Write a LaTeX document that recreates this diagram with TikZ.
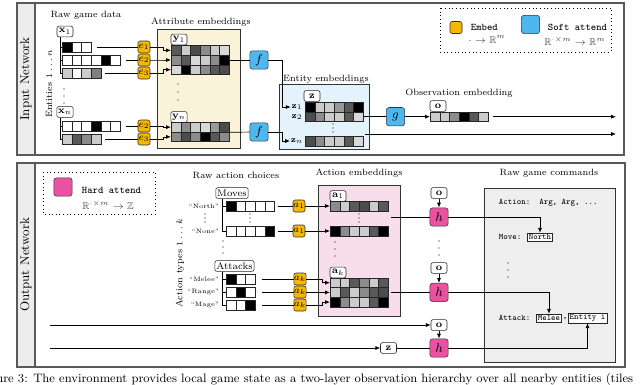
\documentclass[tikz,border=0pt]{standalone}
\usepackage{amssymb}
\usepackage{xcolor}
\usepackage{tikz}
\usetikzlibrary{arrows.meta,positioning}

\definecolor{embedorange}{RGB}{245,184,0}
\definecolor{softblue}{RGB}{77,184,240}
\definecolor{hardpink}{RGB}{232,82,160}
\definecolor{attrfill}{RGB}{251,242,218}
\definecolor{entfill}{RGB}{228,242,252}
\definecolor{actfill}{RGB}{247,222,234}
\definecolor{cmdfill}{RGB}{238,238,238}

% one row of gray cells, named <name>-1, <name>-2, ...
\newcommand{\cellrow}[4]{%
  \foreach \g [count=\i] in {#4}
    \node[cell, fill=black!\g] (#1-\i) at ({#2+(\i-1)*9.7},#3) {};%
}
% three small dots going down
\newcommand{\dotcol}[3]{%
  \foreach \d in {0,1,2}
    \fill ({#1},{#2+\d*#3}) circle (0.45pt);%
}

\begin{document}
\begin{tikzpicture}[
    x=0.025cm, y=-0.025cm,
    font=\fontsize{6.5}{7.5}\selectfont,
    panel/.style={draw=black!65, line width=0.9pt},
    sidebar/.style={draw=black!65, line width=0.9pt, fill=black!7},
    legend/.style={draw, dotted, line width=0.6pt},
    group/.style={draw=black!80, line width=0.6pt},
    cell/.style={draw=black!85, line width=0.35pt, minimum size=2.425mm, inner sep=0pt},
    tag/.style={draw=black!85, fill=white, rounded corners=1.5pt, inner sep=1pt, minimum height=2.7mm, minimum width=4mm, font=\fontsize{7.5}{8}\selectfont},
    embed/.style={draw=black!80, fill=embedorange, rounded corners=1.5pt, minimum size=3mm, inner sep=0pt, font=\fontsize{7}{8}\selectfont},
    soft/.style={draw=black!80, fill=softblue, rounded corners=2pt, minimum size=4.6mm, inner sep=0pt, font=\fontsize{9}{10}\selectfont},
    hard/.style={draw=black!80, fill=hardpink, rounded corners=2pt, minimum size=4.6mm, inner sep=0pt, font=\fontsize{9}{10}\selectfont},
    cmd/.style={draw=black!85, fill=white, inner sep=1pt, font=\fontsize{6}{7}\selectfont\ttfamily},
    code/.style={anchor=west, font=\fontsize{6}{7}\selectfont\ttfamily},
    key/.style={anchor=west, font=\fontsize{7.2}{8}\selectfont\ttfamily},
    keymath/.style={text=black!75, font=\fontsize{7}{8}\selectfont},
    choice/.style={font=\fontsize{4.5}{5}\selectfont, anchor=east, inner sep=0.5pt},
    side/.style={rotate=90, font=\fontsize{9}{10}\selectfont},
    ln/.style={line width=0.5pt},
    arr/.style={line width=0.5pt, -{Latex[length=1.2mm, width=1mm]}},
  ]
  \useasboundingbox (0,0) rectangle (640,384);
  \fill[white] (0,0) rectangle (640,384);

  % panels
  \draw[panel] (17,3) rectangle (624,155);
  \draw[sidebar] (17,3) rectangle (35,155);
  \node[side] (inlbl) at (26,79) {Input Network};
  \draw[panel] (17,163) rectangle (625,367);
  \draw[sidebar] (17,163) rectangle (35,367);
  \node[side] (outlbl) at (26,265) {Output Network};

  % group boxes
  \draw[group, fill=attrfill] (157,29) rectangle (240,148);
  \draw[group, fill=entfill] (279,84) rectangle (369,149);
  \draw[group, fill=actfill] (318,185) rectangle (400,316);
  \draw[group, fill=cmdfill] (484,188) rectangle (615,362);

  % legends
  \draw[legend] (440,8) rectangle (611,52);
  \node[embed] (kembed) at (456,27.5) {};
  \node[key] (tembed) at (466,27.5) {Embed};
  \node[keymath] (membed) at (487,39.5) {$\cdot\to\mathbb{R}^m$};
  \node[soft] (ksoft) at (530.5,24.5) {};
  \node[key] (tsoft) at (543,27.5) {Soft attend};
  \node[keymath] (msoft) at (575,41) {$\mathbb{R}^{\cdot\times m}\to\mathbb{R}^m$};
  \draw[legend] (43,172) rectangle (155,214);
  \node[hard] (khard) at (63,187) {};
  \node[key] (thard) at (77,190.5) {Hard attend};
  \node[keymath] (mhard) at (108,205) {$\mathbb{R}^{\cdot\times m}\to\mathbb{Z}$};

  % raw game data
  \node (traw) at (86,15) {Raw game data};
  \node[rotate=90] (ents) at (49,84) {Entities $1\ldots n$};
  \node[tag] (x1) at (65,31.5) {$\mathbf{x}_1$};
  \cellrow{xa}{67}{47}{100,0,0}
  \cellrow{xb}{67}{60}{0,0,0,0,100,0}
  \cellrow{xc}{67}{73}{20,0,20,50}
  \draw[ln] ([xshift=-1.25mm]x1.south) |- (xa-1.west);
  \draw[ln] ([xshift=-1.25mm]x1.south) |- (xb-1.west);
  \draw[ln] ([xshift=-1.25mm]x1.south) |- (xc-1.west);
  \dotcol{64}{89}{7}
  \node[tag] (xn) at (65,112) {$\mathbf{x}_n$};
  \cellrow{xd}{67}{126}{0,0,0,100,0,0}
  \cellrow{xe}{67}{139}{20,65,45,20}
  \draw[ln] ([xshift=-1.25mm]xn.south) |- (xd-1.west);
  \draw[ln] ([xshift=-1.25mm]xn.south) |- (xe-1.west);

  \node[embed] (e1) at (144,47) {$e_1$};
  \node[embed] (e2) at (144,60) {$e_2$};
  \node[embed] (e3) at (144,73) {$e_3$};
  \node[embed] (e4) at (144,126) {$e_2$};
  \node[embed] (e5) at (144,139) {$e_3$};
  \draw[ln, shorten <=1.3mm] (xa-3.east) -- (e1);
  \draw[ln, shorten <=1.3mm] (xb-6.east) -- (e2);
  \draw[ln, shorten <=1mm] (xc-4.east) -- (e3);
  \draw[ln, shorten <=1.3mm] (xd-6.east) -- (e4);
  \draw[ln, shorten <=1mm] (xe-4.east) -- (e5);

  % attribute embeddings
  \node (tattr) at (201,22) {Attribute embeddings};
  \node[tag] (y1) at (179,39.5) {$\mathbf{y}_1$};
  \cellrow{Ya}{176}{50.3}{65,20,70,45,20,15}
  \cellrow{Yb}{176}{60}{45,65,15,20,45,100}
  \cellrow{Yc}{176}{69.7}{15,100,20,45,65,70}
  \dotcol{178}{84}{8}
  \node[tag] (yn) at (179,117) {$\mathbf{y}_n$};
  \cellrow{Yd}{176}{127.15}{20,45,20,15,40,70}
  \cellrow{Ye}{176}{136.85}{45,70,45,100,65,45}
  \draw[arr] (e1.east) -- ++(13,0) |- (Ya-1);
  \draw[arr] (e2.east) -- ++(13,0) |- (Yb-1);
  \draw[arr] (e3.east) -- ++(13,0) |- (Yc-1);
  \draw[arr] (e4.east) -- ++(13,0) |- (Yd-1);
  \draw[arr] (e5.east) -- ++(13,0) |- (Ye-1);

  \node[soft] (f1) at (259,60) {$f$};
  \node[soft] (f2) at (259,132) {$f$};
  \draw[ln] (Yb-6.east) -- (f1);
  \draw[ln] (Yd-6.south east) -- (f2);

  % entity embeddings
  \node (tent) at (326,79) {Entity embeddings};
  \node[tag] (z) at (312,96) {$\mathbf{z}$};
  \cellrow{Za}{310}{107}{100,20,20,40,65,100}
  \cellrow{Zb}{310}{116.7}{70,45,20,20,65,15}
  \cellrow{Zc}{310}{141}{70,45,20,20,65,15}
  \node[inner sep=0.5pt] (z1) at (297,107) {$\mathbf{z}_1$};
  \node[inner sep=0.5pt] (z2) at (297,117) {$\mathbf{z}_2$};
  \node[inner sep=0.5pt] (zn) at (297,141) {$\mathbf{z}_n$};
  \dotcol{333}{124}{4}
  \draw[arr] (f1.east) -- ++(14,0) |- (z1);
  \draw[arr] (f2.east) -- ++(14,0) |- (zn);

  % observation embedding
  \node[soft] (g) at (395.5,116.7) {$g$};
  \draw[ln] (Zb-6.east) -- (g);
  \node (tobs) at (459,93) {Observation embedding};
  \node[tag] (o) at (438,106) {$\mathbf{o}$};
  \cellrow{Oa}{435}{116.7}{20,20,45,100,65,20}
  \draw[arr] (g) -- (Oa-1);
  \coordinate (oend) at (616,116.7);
  \draw[arr, shorten <=1mm] (Oa-6.east) -- (oend);
  \coordinate (zout) at (365,134);
  \coordinate (zend) at (616,134);
  \draw[arr] (zout) -- (zend);

  % raw action choices
  \node (tchoice) at (236,175) {Raw action choices};
  \node[rotate=90] (types) at (180,263) {Action types $1\ldots k$};
  \node[tag, font=\fontsize{6.8}{7}\selectfont] (moves) at (232,193) {Moves};
  \cellrow{Mn}{231}{206}{100,0,0,0,0}
  \cellrow{Mo}{231}{231}{0,0,0,0,100}
  \draw[ln] ([xshift=-2.5mm]moves.south) |- (Mn-1.west);
  \draw[ln] ([xshift=-2.5mm]moves.south) |- (Mo-1.west);
  \node[choice] (cn) at (220,206) {``North''};
  \node[choice] (co) at (220,231) {``None''};
  \dotcol{205}{214}{4}
  \dotcol{250}{214}{4}
  \dotcol{223}{241}{6}
  \node[tag, font=\fontsize{6.8}{7}\selectfont] (attacks) at (234.5,266) {Attacks};
  \cellrow{Ml}{231}{279}{100,0,0}
  \cellrow{Mr}{231}{292}{0,100,0}
  \cellrow{Mg}{231}{305}{0,0,100}
  \draw[ln] ([xshift=-3.1mm]attacks.south) |- (Ml-1.west);
  \draw[ln] ([xshift=-3.1mm]attacks.south) |- (Mr-1.west);
  \draw[ln] ([xshift=-3.1mm]attacks.south) |- (Mg-1.west);
  \node[choice] (cl) at (220,279) {``Melee''};
  \node[choice] (cr) at (220,292) {``Range''};
  \node[choice] (cg) at (220,305) {``Mage''};

  \node[embed] (a1) at (299,206) {$a_1$};
  \node[embed] (a2) at (299,231) {$a_1$};
  \node[embed] (a3) at (300,279) {$a_k$};
  \node[embed] (a4) at (300,292) {$a_k$};
  \node[embed] (a5) at (300,305) {$a_k$};
  \draw[ln, shorten <=0.8mm] (Mn-5.east) -- (a1);
  \draw[ln, shorten <=0.8mm] (Mo-5.east) -- (a2);
  \draw[ln, shorten <=1.5mm] (Ml-3.east) -- (a3);
  \draw[ln, shorten <=1.5mm] (Mr-3.east) -- (a4);
  \draw[ln, shorten <=1.5mm] (Mg-3.east) -- (a5);

  % action embeddings
  \node (tact) at (359,173) {Action embeddings};
  \node[tag] (at1) at (338,196) {$\mathbf{a}_1$};
  \cellrow{Aa}{335}{206}{45,20,65,70,20,65}
  \dotcol{359}{214}{4}
  \cellrow{Ab}{335}{231}{100,45,20,20,65,100}
  \dotcol{335}{242}{7}
  \node[tag] (atk) at (338,272.5) {$\mathbf{a}_k$};
  \cellrow{Ak1}{335}{282.7}{20,20,65,45,20,65}
  \cellrow{Ak2}{335}{292.4}{20,65,20,45,65,70}
  \cellrow{Ak3}{335}{302.1}{100,45,20,20,65,100}
  \draw[arr] (a1) -- (Aa-1);
  \draw[arr] (a2) -- (Ab-1);
  \draw[arr] (a3.east) -- ++(16,0) |- (Ak1-1);
  \draw[arr] (a4.east) -- ++(16,0) |- (Ak2-1);
  \draw[arr] (a5.east) -- ++(16,0) |- (Ak3-1);

  % hard attention
  \node[tag] (o1) at (439,193) {$\mathbf{o}$};
  \node[hard] (h1) at (439,217) {$h$};
  \draw[arr] (o1) -- (h1);
  \coordinate (aout) at (391,217);
  \draw[ln] (aout) -- (h1);
  \dotcol{439}{241}{7}
  \node[tag] (o2) at (439,268) {$\mathbf{o}$};
  \node[hard] (h2) at (439,292.4) {$h$};
  \draw[arr] (o2) -- (h2);
  \draw[ln, shorten <=0.5mm] (Ak2-6.east) -- (h2);
  \node[tag] (o3) at (439,325) {$\mathbf{o}$};
  \node[hard] (h3) at (439,348) {$h$};
  \draw[arr] (o3) -- (h3);
  \node[tag] (zz) at (388.5,348) {$\mathbf{z}$};
  \draw[ln] (zz) -- (h3);
  \coordinate (oin) at (50,325);
  \coordinate (zin) at (50,348);
  \draw[arr] (oin) -- (o3);
  \draw[arr] (zin) -- (zz);

  % raw game commands
  \node (tcmd) at (549,173) {Raw game commands};
  \node[code] (cact) at (494,203) {Action:\ \ Arg, Arg, ...};
  \node[code] (cmove) at (494,237) {Move:};
  \node[cmd] (cnorth) at (540,237) {North};
  \dotcol{508}{263}{7}
  \node[code] (catt) at (494,318) {Attack:};
  \node[cmd] (cmelee) at (549,318) {Melee};
  \node[code, inner sep=0pt] (comma) at (562.5,319) {,};
  \node[cmd] (cent) at (587.5,318) {Entity i};
  \draw[arr] (h1) -| (cnorth);
  \draw[arr] (h2) -| (cmelee);
  \draw[arr] (h3) -| (cent);

  % caption, cut by the page edge
  \node[anchor=base west, inner sep=0pt, font=\fontsize{8.7}{10}\selectfont] (cap) at (-22,382) {Figure 3: The environment provides local game state as a two-layer observation hierarchy over all nearby entities (tiles};
\end{tikzpicture}
\end{document}
